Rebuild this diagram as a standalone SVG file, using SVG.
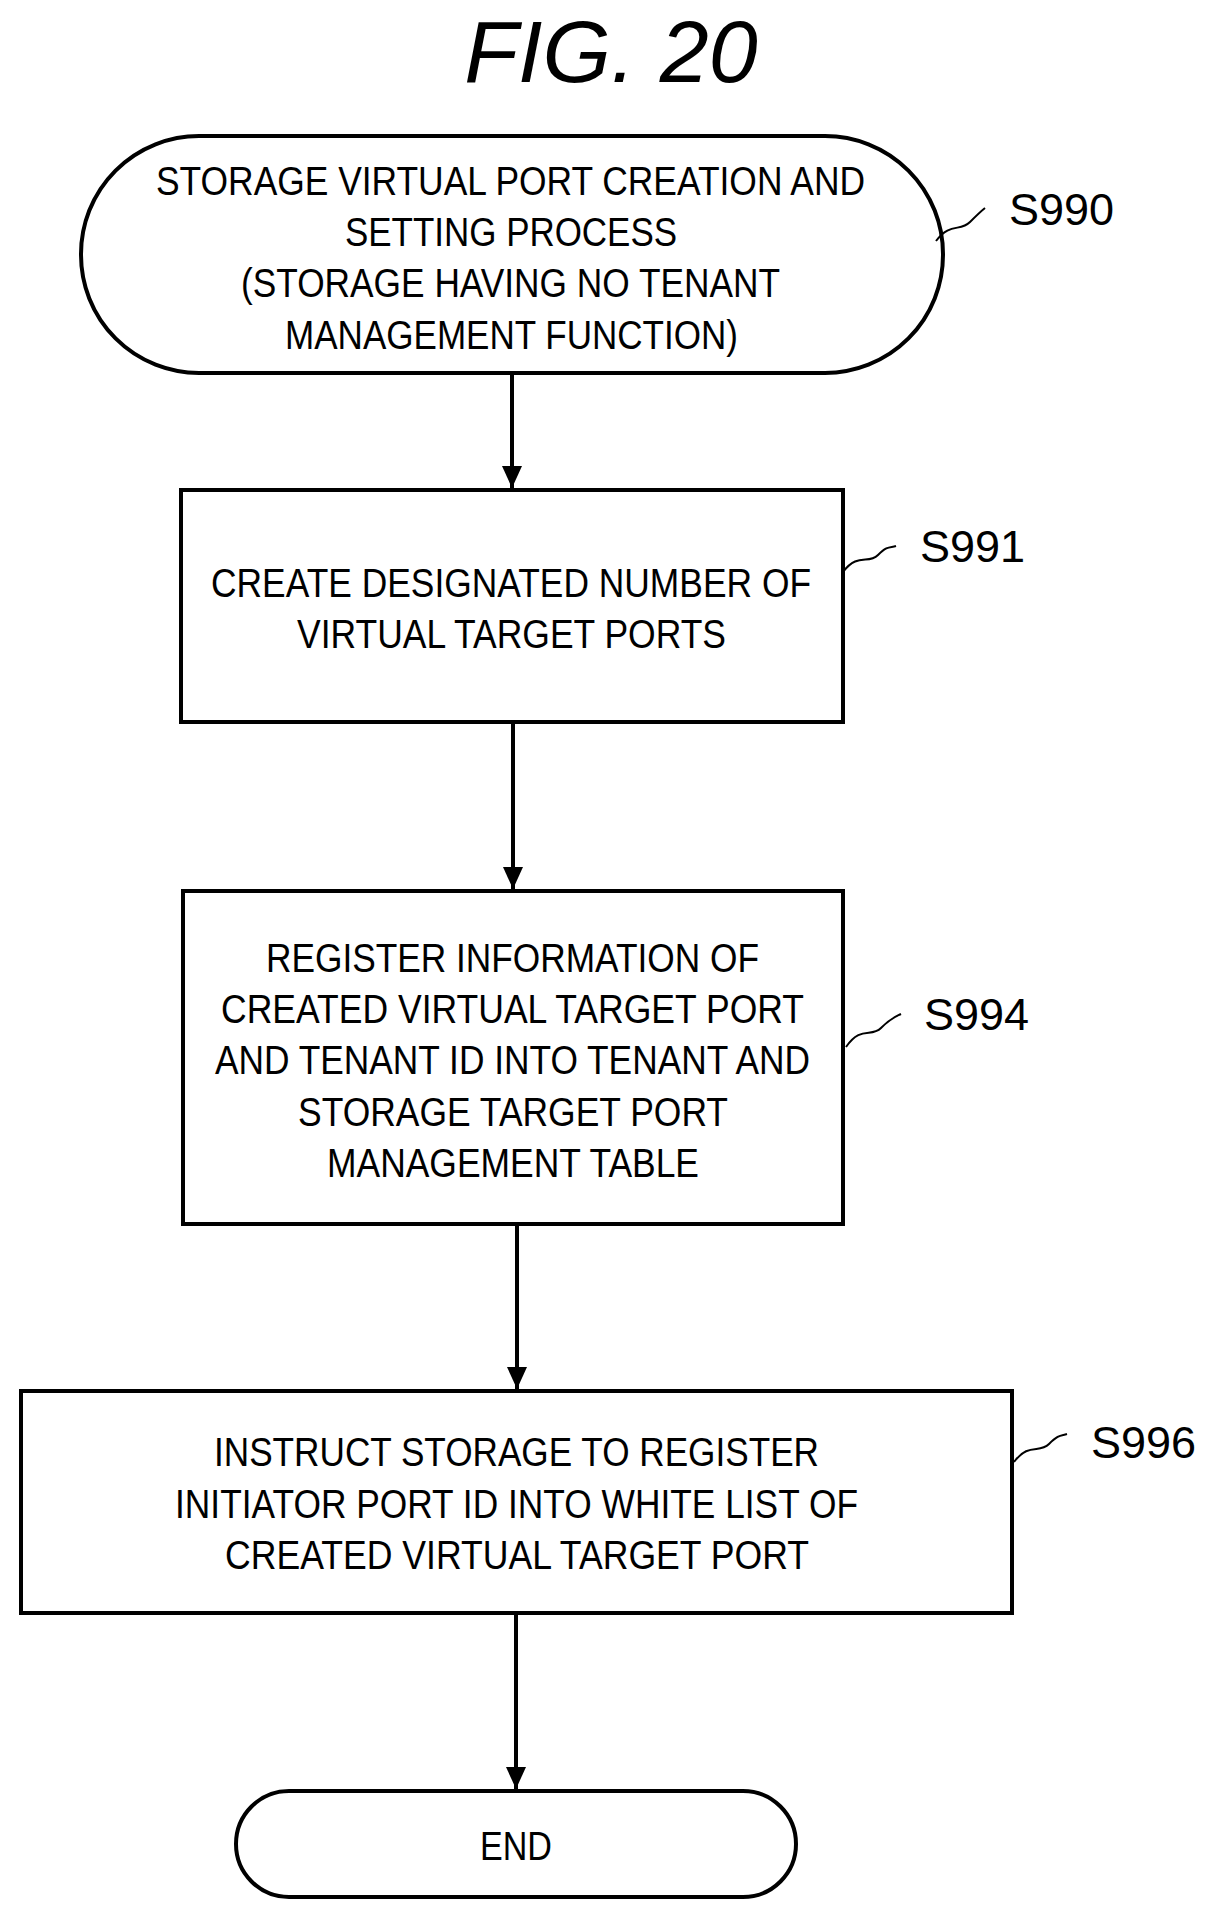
<svg xmlns="http://www.w3.org/2000/svg" width="1222" height="1924" viewBox="0 0 1222 1924">
<style>
.b{fill:#fff;stroke:#000;stroke-width:4}
.t{font-family:"Liberation Sans",Arial,sans-serif;font-size:41px;text-anchor:start}
.l{font-family:"Liberation Sans",Arial,sans-serif;font-size:45px}
.c{stroke:#000;stroke-width:4;fill:none}
.s{stroke:#000;stroke-width:2;fill:none}
</style>
<defs>
<marker id="ah" markerWidth="20" markerHeight="22" refX="10" refY="22" orient="0" markerUnits="userSpaceOnUse" viewBox="0 0 20 22"><path d="M0,0 L20,0 L10,22 Z" fill="#000"/></marker></defs>
<text x="611" y="82" font-family="Liberation Sans,Arial,sans-serif" font-size="88" font-style="italic" text-anchor="middle">FIG. 20</text>
<g id="s990">
<rect class="b" x="81" y="136" width="862" height="237" rx="118"/>
<text class="t" x="156" y="195" textLength="709" lengthAdjust="spacingAndGlyphs">STORAGE VIRTUAL PORT CREATION AND</text>
<text class="t" x="345" y="246" textLength="332" lengthAdjust="spacingAndGlyphs">SETTING PROCESS</text>
<text class="t" x="241" y="297" textLength="539" lengthAdjust="spacingAndGlyphs">(STORAGE HAVING NO TENANT</text>
<text class="t" x="285" y="349" textLength="453" lengthAdjust="spacingAndGlyphs">MANAGEMENT FUNCTION)</text>
<path class="s" d="M936,241 C950,222 960,232 970,222 S980,212 985,208"/>
<text class="l" x="1009" y="225">S990</text>
</g>
<g id="s991">
<rect class="b" x="181" y="490" width="662" height="232"/>
<text class="t" x="211" y="597" textLength="600" lengthAdjust="spacingAndGlyphs">CREATE DESIGNATED NUMBER OF</text>
<text class="t" x="297" y="648" textLength="429" lengthAdjust="spacingAndGlyphs">VIRTUAL TARGET PORTS</text>
<path class="s" d="M843,572 C858,552 868,565 878,555 S890,548 896,546"/>
<text class="l" x="920" y="562">S991</text>
</g>
<g id="s994">
<rect class="b" x="183" y="891" width="660" height="333"/>
<text class="t" x="266" y="972" textLength="493" lengthAdjust="spacingAndGlyphs">REGISTER INFORMATION OF</text>
<text class="t" x="221" y="1023" textLength="583" lengthAdjust="spacingAndGlyphs">CREATED VIRTUAL TARGET PORT</text>
<text class="t" x="215" y="1074" textLength="595" lengthAdjust="spacingAndGlyphs">AND TENANT ID INTO TENANT AND</text>
<text class="t" x="298" y="1126" textLength="430" lengthAdjust="spacingAndGlyphs">STORAGE TARGET PORT</text>
<text class="t" x="327" y="1177" textLength="372" lengthAdjust="spacingAndGlyphs">MANAGEMENT TABLE</text>
<path class="s" d="M846,1047 C861,1025 871,1038 881,1028 S895,1017 901,1014"/>
<text class="l" x="924" y="1030">S994</text>
</g>
<g id="s996">
<rect class="b" x="21" y="1391" width="991" height="222"/>
<text class="t" x="214" y="1466" textLength="605" lengthAdjust="spacingAndGlyphs">INSTRUCT STORAGE TO REGISTER</text>
<text class="t" x="175" y="1518" textLength="683" lengthAdjust="spacingAndGlyphs">INITIATOR PORT ID INTO WHITE LIST OF</text>
<text class="t" x="225" y="1569" textLength="584" lengthAdjust="spacingAndGlyphs">CREATED VIRTUAL TARGET PORT</text>
<path class="s" d="M1014,1462 C1029,1442 1039,1454 1049,1444 S1061,1436 1067,1434"/>
<text class="l" x="1091" y="1458">S996</text>
</g>
<g id="end">
<rect class="b" x="236" y="1791" width="560" height="106" rx="53"/>
<text class="t" x="480" y="1860" textLength="72" lengthAdjust="spacingAndGlyphs">END</text>
</g>
<g id="connectors">
<line class="c" x1="512" y1="373" x2="512" y2="488" marker-end="url(#ah)"/>
<line class="c" x1="513" y1="722" x2="513" y2="889" marker-end="url(#ah)"/>
<line class="c" x1="517" y1="1224" x2="517" y2="1389" marker-end="url(#ah)"/>
<line class="c" x1="516" y1="1613" x2="516" y2="1789" marker-end="url(#ah)"/>
</g>
</svg>
